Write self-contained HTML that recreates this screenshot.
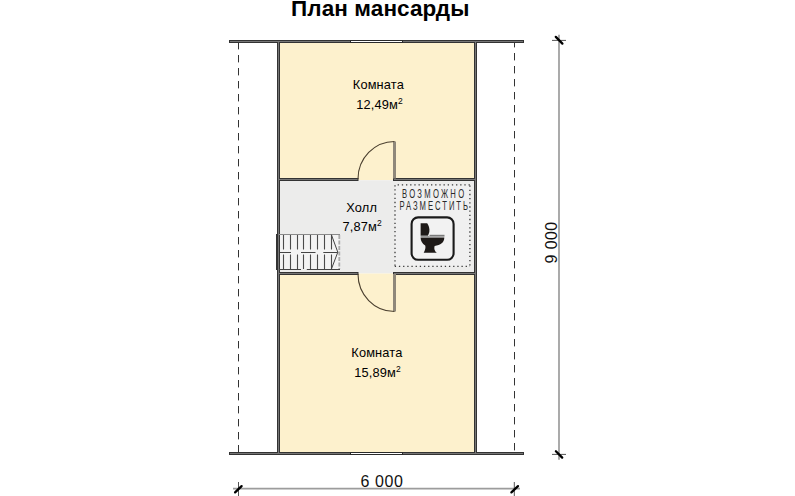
<!DOCTYPE html>
<html><head><meta charset="utf-8">
<style>
html,body{margin:0;padding:0;background:#fff;}
body{width:795px;height:496px;overflow:hidden;position:relative;}
svg{position:absolute;left:0;top:0;}
text{font-family:"Liberation Sans",sans-serif;}
</style></head>
<body>
<svg width="795" height="496" viewBox="0 0 795 496">
  <!-- title -->
  <text x="291" y="16" font-size="22.5" letter-spacing="0.1" font-weight="bold" fill="#000">План мансарды</text>

  <!-- room fills -->
  <rect x="280" y="43" width="194" height="137.3" fill="#fdf1cd"/>
  <rect x="280" y="180.3" width="194" height="93.2" fill="#ececeb"/>
  <rect x="280" y="273.5" width="194" height="178.5" fill="#fdf1cd"/>

  <!-- dashed lines -->
  <line x1="238.5" y1="42" x2="238.5" y2="452" stroke="#333" stroke-width="1" stroke-dasharray="7.4 5.6"/>
  <line x1="514.5" y1="40" x2="514.5" y2="452" stroke="#333" stroke-width="1" stroke-dasharray="7.4 5.6"/>

  <!-- walls -->
  <g fill="#333">
    <rect x="229" y="40" width="295" height="3"/>
    <rect x="229" y="452" width="295" height="3"/>
    <rect x="277" y="40" width="3" height="415"/>
    <rect x="474" y="40" width="3" height="415"/>
    <rect x="280" y="178" width="78.5" height="3"/>
    <rect x="393" y="178" width="81" height="3"/>
    <rect x="280" y="272" width="78.5" height="3"/>
    <rect x="393" y="272" width="81" height="3"/>
  </g>
  <g fill="#767676">
    <rect x="230" y="41" width="293" height="1"/>
    <rect x="230" y="453" width="293" height="1"/>
    <rect x="278" y="41" width="1" height="413"/>
    <rect x="475" y="41" width="1" height="413"/>
    <rect x="278" y="179" width="79.5" height="1"/>
    <rect x="394" y="179" width="81" height="1"/>
    <rect x="278" y="273" width="79.5" height="1"/>
    <rect x="394" y="273" width="81" height="1"/>
  </g>
  <!-- stair stringer -->
  <rect x="276" y="234" width="2" height="36" fill="#333"/>
  <!-- windows -->
  <rect x="350" y="40" width="53" height="3" fill="#2a2a2a"/>
  <rect x="351" y="41" width="51" height="1" fill="#fff"/>
  <rect x="350" y="452" width="53" height="3" fill="#2a2a2a"/>
  <rect x="351" y="453" width="51" height="1" fill="#fff"/>

  <!-- doors -->
  <rect x="393" y="141.5" width="3" height="37" fill="#8f887a"/>
  <path d="M358 179 A36.5 37.5 0 0 1 394.5 141.5" fill="none" stroke="#4a3f2e" stroke-width="1.1"/>
  <rect x="393" y="274" width="3" height="37.5" fill="#8f887a"/>
  <path d="M358 274 A36.5 37.5 0 0 0 394.5 311.5" fill="none" stroke="#4a3f2e" stroke-width="1.1"/>

  <!-- stairs -->
  <rect x="280" y="234.5" width="59.5" height="35" fill="#f3f3f3"/>
  <g stroke="#444" stroke-width="1" fill="none">
    <line x1="279" y1="234.5" x2="340" y2="234.5" stroke="#8a8a8a" stroke-width="1.2"/>
    <path d="M279 269.5H301 M306.8 269.5H340"/>
    <line x1="339.3" y1="235" x2="339.3" y2="269" stroke="#aaa" stroke-width="1.8" stroke-dasharray="4 1.5"/>
    <path d="M280 252.5H291 M301 252.5H315.5 M323.3 252.5H337.7"/>
    <g stroke="#4a4a4a" stroke-width="1.1">
    <path d="M283.5 235V249.5 M290.5 235V249.5 M297.5 235V249.5 M303.5 235V249.5 M310.5 235V249.5 M317.5 235V249.5 M324.5 235V249.5 M331.5 235V249.5"/>
    <path d="M283.5 254.5V269 M290.5 254.5V269 M297.5 254.5V269 M303.5 254.5V269 M310.5 254.5V269 M317.5 254.5V269 M324.5 254.5V269 M331.5 254.5V269"/>
    </g>
    <polyline points="331.3,234.5 337.8,252.2 331.3,269.3"/>
  </g>

  <!-- possible toilet box -->
  <rect x="395" y="184.8" width="75" height="81.5" fill="#f0f0f0"/>
  <g stroke="#3a3a3a" stroke-width="1.3" stroke-dasharray="1.3 2.87" fill="none">
    <path d="M397.65 184.8H470"/>
    <path d="M394.75 266.3H470"/>
    <path d="M395 185.15V266"/>
    <path d="M469.9 251.65V266"/>
    <path d="M469.9 185.5V251"/>
  </g>
  <text transform="translate(402 197.6) scale(0.64 1)" font-size="12" fill="#2a2a2a" letter-spacing="3.55">ВОЗМОЖНО</text>
  <text transform="translate(399.5 209.5) scale(0.64 1)" font-size="12" fill="#2a2a2a" letter-spacing="3.05">РАЗМЕСТИТЬ</text>
  <rect x="411.6" y="217.4" width="42" height="42.4" rx="6.5" fill="#f2f2f2" stroke="#1a1a1a" stroke-width="2.1"/>
  <g fill="#1e1a18">
    <path d="M420.6 223.2 H427.2 C429.9 227 430.2 232 427.8 235.7 H420.6 Z"/>
    <path d="M420.6 237.6 H444.3 C444.4 242.5 440.5 245.3 434.6 246 C433.8 248.8 434.6 251.2 436.8 252.8 H423.7 C425.2 250 425.9 247.5 425.2 245.6 C422.2 243.6 420.6 241 420.6 237.6 Z"/>
  </g>
  <rect x="429.5" y="234.8" width="15" height="1.8" fill="#7a7a7a"/>
  <rect x="420.6" y="235.8" width="9" height="1.5" fill="#9a9a9a"/>

  <!-- room labels -->
  <g font-size="12.8" fill="#000" letter-spacing="0.15">
  <text x="352.8" y="88.7">Комната</text>
  <text x="356.2" y="108.6">12,49м<tspan font-size="8.5" dy="-5" letter-spacing="0">2</tspan></text>
  <text x="346.3" y="212.1">Холл</text>
  <text x="342.6" y="231.1">7,87м<tspan font-size="8.5" dy="-5" letter-spacing="0">2</tspan></text>
  <text x="351.3" y="357.4">Комната</text>
  <text x="354.3" y="376.7">15,89м<tspan font-size="8.5" dy="-5" letter-spacing="0">2</tspan></text>
  </g>

  <!-- vertical dimension -->
  <line x1="559" y1="34.7" x2="559" y2="459.7" stroke="#9c9c9c" stroke-width="1.7"/>
  <line x1="552" y1="40.4" x2="566" y2="40.4" stroke="#555" stroke-width="1"/>
  <line x1="552" y1="454.4" x2="566" y2="454.4" stroke="#555" stroke-width="1"/>
  <line x1="555.8" y1="36.9" x2="562.4" y2="43.6" stroke="#000" stroke-width="2.3" stroke-linecap="round"/>
  <line x1="555.9" y1="451.2" x2="562.2" y2="457.6" stroke="#000" stroke-width="2.3" stroke-linecap="round"/>
  <text transform="translate(556.8 242.5) rotate(-90)" text-anchor="middle" font-size="16" letter-spacing="0.4" fill="#111">9 000</text>

  <!-- horizontal dimension -->
  <line x1="233" y1="488.7" x2="520" y2="488.7" stroke="#9c9c9c" stroke-width="1.8"/>
  <line x1="238.5" y1="482" x2="238.5" y2="496" stroke="#555" stroke-width="1"/>
  <line x1="514.3" y1="482" x2="514.3" y2="496" stroke="#555" stroke-width="1"/>
  <line x1="235.1" y1="492.4" x2="241.6" y2="486.1" stroke="#000" stroke-width="2.3" stroke-linecap="round"/>
  <line x1="511.4" y1="492.4" x2="518" y2="486.1" stroke="#000" stroke-width="2.3" stroke-linecap="round"/>
  <text x="382.1" y="487" text-anchor="middle" font-size="16" letter-spacing="0.6" fill="#111">6 000</text>
</svg>
</body></html>
